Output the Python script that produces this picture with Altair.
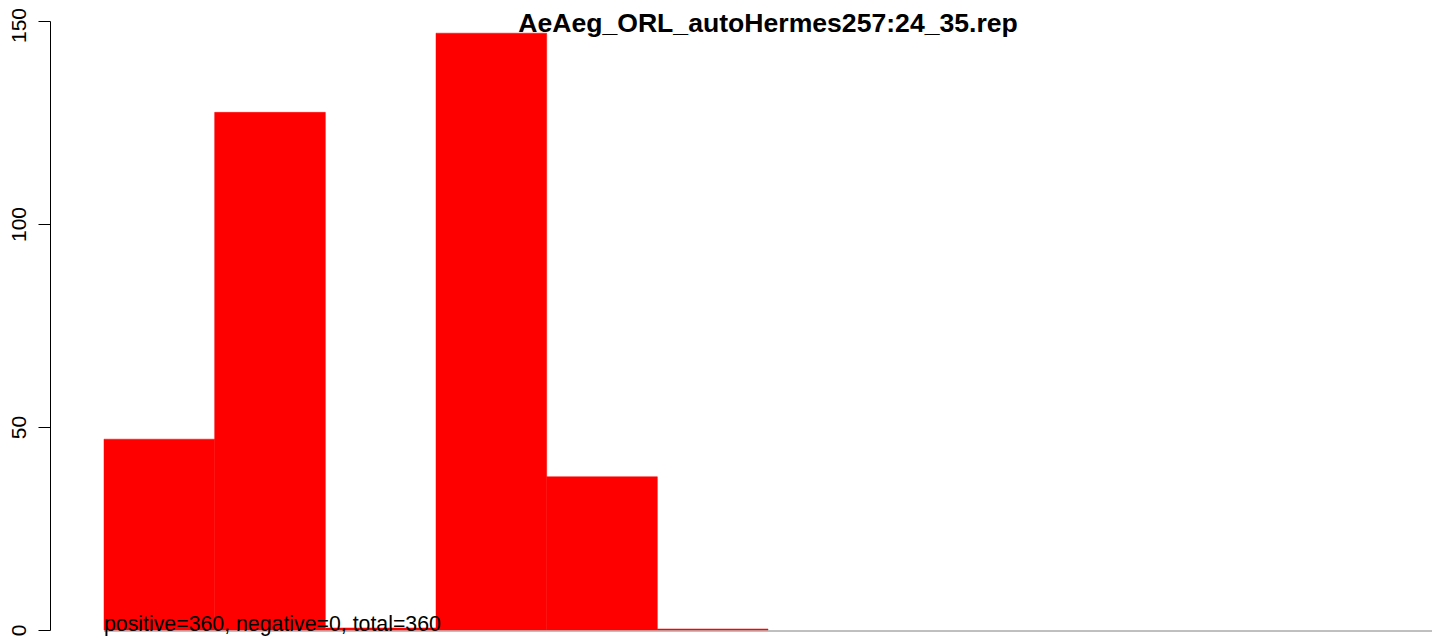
import altair as alt
import pandas as pd

# Data
bin_start = [0, 1, 2, 3, 4, 5, 6, 7, 8, 9, 10, 11]
bin_end = [1, 2, 3, 4, 5, 6, 7, 8, 9, 10, 11, 12]
counts = [47, 127.5, 0.5, 147, 37.75, 0.25, 0, 0, 0, 0, 0, 0]
y_ticks = [0, 50, 100, 150]
title_text = "AeAeg_ORL_autoHermes257:24_35.rep"
note_text = "positive=360, negative=0, total=360"

bars_df = pd.DataFrame({"x0": bin_start, "x1": bin_end, "count": counts})
base_df = pd.DataFrame({"x0": [bin_start[0]], "x1": [bin_end[-1]], "y": [0]})
note_df = pd.DataFrame({"x": [bin_start[0]], "y": [0], "label": [note_text]})
title_df = pd.DataFrame({"label": [title_text]})

FONT = "Liberation Sans"
xscale = alt.Scale(domain=[-0.48795, 12.0361], nice=False, zero=False)
yscale = alt.Scale(domain=[0, 150], nice=False)

baseline = alt.Chart(base_df).mark_rule(color="#808080", strokeWidth=1, yOffset=1).encode(
    x=alt.X("x0:Q", scale=xscale, axis=None),
    x2="x1:Q",
    y=alt.Y("y:Q", scale=yscale),
)

bars = alt.Chart(bars_df).mark_rect(
    color="#FF0000", stroke="#FF0000", strokeWidth=0.5
).encode(
    x=alt.X("x0:Q", scale=xscale, axis=None),
    x2="x1:Q",
    y=alt.Y(
        "count:Q",
        scale=yscale,
        axis=alt.Axis(
            values=y_ticks,
            title=None,
            grid=False,
            domainColor="black",
            domainWidth=1,
            tickColor="black",
            tickWidth=1,
            tickSize=12,
            labelAngle=270,
            labelAlign="center",
            labelBaseline="alphabetic",
            labelPadding=13,
            labelFont=FONT,
            labelFontSize=21,
            labelColor="black",
            labelOverlap=False,
            labelFlush=False,
            labelOffset={"condition": {"test": "datum.value == 150", "value": 4}, "value": 0},
        ),
    ),
    y2=alt.datum(0),
    strokeOpacity=alt.condition("datum.count > 0", alt.value(1), alt.value(0)),
    fillOpacity=alt.condition("datum.count > 0", alt.value(1), alt.value(0)),
)

note = alt.Chart(note_df).mark_text(
    align="left", baseline="alphabetic", font=FONT, fontSize=21.3, color="black", dy=1
).encode(
    x=alt.X("x:Q", scale=xscale),
    y=alt.Y("y:Q", scale=yscale),
    text="label:N",
)

# chart title, centred over the bar range as in the reference
title = alt.Chart(title_df).mark_text(
    align="center", baseline="alphabetic", font=FONT, fontSize=26.6, fontWeight="bold", color="black"
).encode(
    x=alt.value(718),
    y=alt.value(11),
    text="label:N",
)

chart = (
    alt.layer(baseline, bars, note, title)
    .properties(
        width=1386,
        height=609,
        background="white",
        autosize=alt.AutoSizeParams(type="none"),
        padding={"left": 42, "top": 13, "right": 0, "bottom": 6},
    )
    .configure_view(strokeWidth=0)
)

chart.save("out.html", embed_options={"renderer": "svg", "actions": False})
